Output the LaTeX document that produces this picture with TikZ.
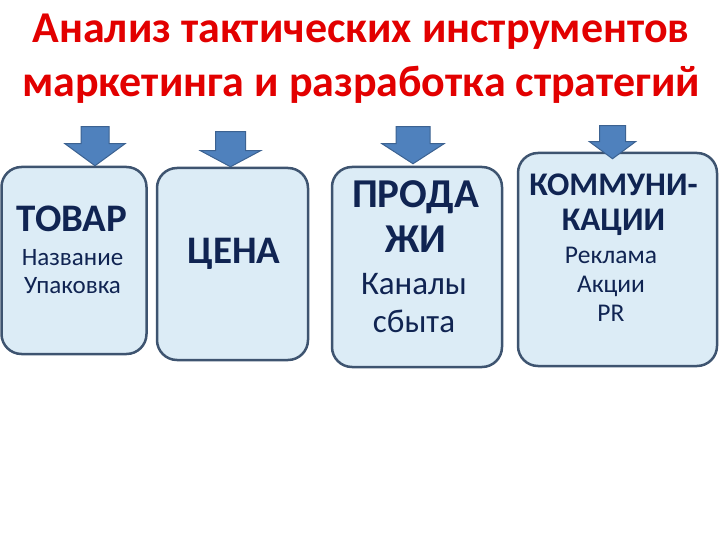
\documentclass[tikz,border=0pt]{standalone}
\usepackage{fontspec}
\setmainfont{Carlito}
\usetikzlibrary{shapes,arrows}
\usetikzlibrary{positioning,calc}

\definecolor{TitleRed}{RGB}{226,0,0}
\definecolor{BoxFill}{RGB}{220,236,246}
\definecolor{BoxLine}{RGB}{62,84,112}
\definecolor{BoxText}{RGB}{16,36,82}
\definecolor{ArrowFill}{RGB}{79,129,189}
\definecolor{ArrowLine}{RGB}{60,98,145}

\begin{document}
\begin{tikzpicture}[x=1pt, y=-1pt, align=center]

%local definitions
\tikzstyle{ToolBox} = [draw=BoxLine, line width=2.5pt, fill=BoxFill, rectangle, rounded corners=20pt, inner sep=0pt]
\tikzstyle{ToolName} = [text=BoxText, inner sep=0pt, anchor=base, font=\bfseries]
\tikzstyle{ToolItems} = [text=BoxText, inner sep=0pt, anchor=base]
\tikzstyle{BlockArrow} = [draw=ArrowLine, line width=1pt, fill=ArrowFill, line join=miter]

\useasboundingbox (0,0) rectangle (720,540);

%title (base = last line)
	\node [text=TitleRed, inner sep=0pt, anchor=base, font=\fontsize{44}{54}\selectfont\bfseries] (Title) at (361,97) {Анализ тактических инструментов\\маркетинга и разработка стратегий};

%tool boxes
	\node [ToolBox, minimum width=145pt, minimum height=187pt] (TovarBox) at (74,260.5) {};
	\node [ToolBox, minimum width=151pt, minimum height=192pt] (TsenaBox) at (232.5,264) {};
	\node [ToolBox, minimum width=170pt, minimum height=200pt] (ProdazhiBox) at (417,267) {};
	\node [ToolBox, minimum width=199pt, minimum height=213pt] (KommBox) at (617.5,259.5) {};

%box texts
	\node [ToolName, font=\fontsize{39}{39}\selectfont\bfseries] (TovarName) at (72,232) {ТОВАР};
	\node [ToolItems, font=\fontsize{25}{28}\selectfont] (TovarItems) at (72.5,293) {Название\\Упаковка};

	\node [ToolName, font=\fontsize{39}{40}\selectfont\bfseries] (TsenaName) at (234,263) {ЦЕНА};

	\node [ToolName, font=\fontsize{41}{45}\selectfont\bfseries] (ProdazhiName) at (415.5,252) {ПРОДА\\ЖИ};
	\node [ToolItems, font=\fontsize{33}{38}\selectfont] (ProdazhiItems) at (414,332) {Каналы\\сбыта};

	\node [ToolName, font=\fontsize{33}{35}\selectfont\bfseries] (KommName) at (613.5,230) {КОММУНИ-\\КАЦИИ};
	\node [ToolItems, font=\fontsize{25.5}{29}\selectfont] (KommItems) at (611,321) {Реклама\\Акции\\PR};

%arrow tips
	\coordinate (TovarTip) at ($(TovarBox.north)+(21,0)$);
	\coordinate (TsenaTip) at ($(TsenaBox.north)+(-2,0)$);
	\coordinate (ProdazhiTip) at ($(ProdazhiBox.north)+(-4,-2)$);
	\coordinate (KommTip) at ($(KommBox.north)+(-5,7)$);

%arrows
	\draw [BlockArrow] (TovarTip) -- ++(30,-22) -- ++(-16,0) -- ++(0,-17) -- ++(-28,0) -- ++(0,17) -- ++(-16,0) -- cycle;
	\draw [BlockArrow] (TsenaTip) -- ++(30,-16) -- ++(-15,0) -- ++(0,-19) -- ++(-30,0) -- ++(0,19) -- ++(-15,0) -- cycle;
	\draw [BlockArrow] (ProdazhiTip) -- ++(31,-20) -- ++(-14,0) -- ++(0,-17) -- ++(-34,0) -- ++(0,17) -- ++(-14,0) -- cycle;
	\draw [BlockArrow] (KommTip) -- ++(23,-17) -- ++(-10,0) -- ++(0,-16) -- ++(-26,0) -- ++(0,16) -- ++(-10,0) -- cycle;

\end{tikzpicture}
\end{document}
